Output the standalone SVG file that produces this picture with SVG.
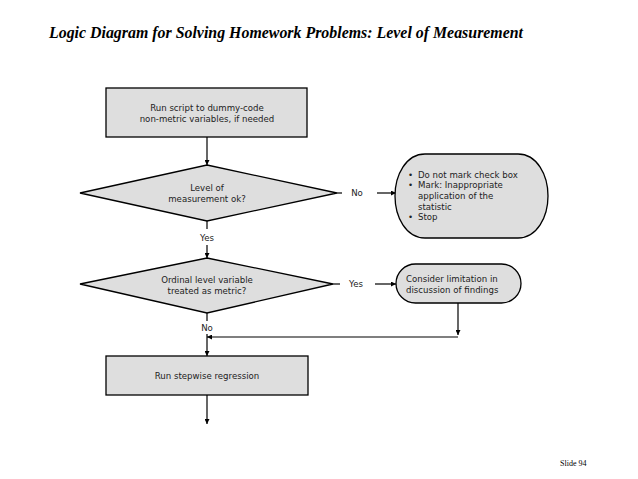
<svg xmlns="http://www.w3.org/2000/svg" width="638" height="479" viewBox="0 0 638 479">
<style>
.shape{fill:#dedede;stroke:#000;stroke-width:1.3}
.t{font-family:"DejaVu Sans",Verdana,sans-serif;font-size:8.6px;fill:#222}
.c{text-anchor:middle}
.ln{stroke:#000;stroke-width:1.2;fill:none}
</style>
<defs>
<marker id="ah" viewBox="0 0 10 10" refX="10" refY="5" markerWidth="5" markerHeight="5" orient="auto" markerUnits="userSpaceOnUse">
<path d="M0,0 L10,5 L0,10 z" fill="#000"/>
</marker>
</defs>
<rect width="638" height="479" fill="#fff"/>
<text x="49" y="38" font-family="Liberation Serif,serif" font-weight="bold" font-style="italic" font-size="15.9" fill="#000">Logic Diagram for Solving Homework Problems: Level of Measurement</text>
<text x="560" y="466" font-family="Liberation Serif,serif" font-size="8" fill="#000">Slide 94</text>

<g id="connectors">
<path class="ln" d="M207,137 V165" marker-end="url(#ah)"/>
<path class="ln" d="M207,221 V229"/>
<path class="ln" d="M207,245 V258" marker-end="url(#ah)"/>
<path class="ln" d="M337,193 H342"/>
<path class="ln" d="M377,193 H396" marker-end="url(#ah)"/>
<path class="ln" d="M333,284 H340"/>
<path class="ln" d="M375,284 H396" marker-end="url(#ah)"/>
<path class="ln" d="M207,313 V321"/>
<path class="ln" d="M458,303 V335" marker-end="url(#ah)"/>
<path class="ln" d="M458,337 H207" marker-end="url(#ah)"/>
<path class="ln" d="M207,334 V356" marker-end="url(#ah)"/>
<path class="ln" d="M207,395 V424" marker-end="url(#ah)"/>
<text class="t c" x="357" y="196">No</text>
<text class="t c" x="207" y="241">Yes</text>
<text class="t c" x="356" y="287">Yes</text>
<text class="t c" x="207" y="331">No</text>
</g>

<g id="box1">
<rect class="shape" x="106" y="88" width="201" height="49"/>
<text class="t c" x="207" y="111">Run script to dummy-code</text>
<text class="t c" x="207" y="122">non-metric variables, if needed</text>
</g>

<g id="decision1">
<polygon class="shape" points="207,165 337,193 207,221 80,193"/>
<text class="t c" x="207" y="191">Level of</text>
<text class="t c" x="207" y="202">measurement ok?</text>
</g>

<g id="stop">
<path class="shape" d="M425,154 H518 C537,154 548,175 548,196 C548,217 537,238 518,238 H425 C406,238 395,217 395,196 C395,175 406,154 425,154 Z"/>
<text class="t" x="408" y="178">•</text><text class="t" x="418" y="178">Do not mark check box</text>
<text class="t" x="408" y="188">•</text><text class="t" x="418" y="188">Mark: Inappropriate</text>
<text class="t" x="418" y="199">application of the</text>
<text class="t" x="418" y="210">statistic</text>
<text class="t" x="408" y="220">•</text><text class="t" x="418" y="220">Stop</text>
</g>

<g id="decision2">
<polygon class="shape" points="207,258 333,284 207,313 80,284"/>
<text class="t c" x="207" y="283">Ordinal level variable</text>
<text class="t c" x="207" y="294">treated as metric?</text>
</g>

<g id="consider">
<rect class="shape" x="396" y="264" width="125" height="39" rx="19.5" ry="19.5"/>
<text class="t" x="406" y="282">Consider limitation in</text>
<text class="t" x="406" y="293">discussion of findings</text>
</g>

<g id="box3">
<rect class="shape" x="106" y="356" width="202" height="39"/>
<text class="t c" x="207" y="379">Run stepwise regression</text>
</g>
</svg>
